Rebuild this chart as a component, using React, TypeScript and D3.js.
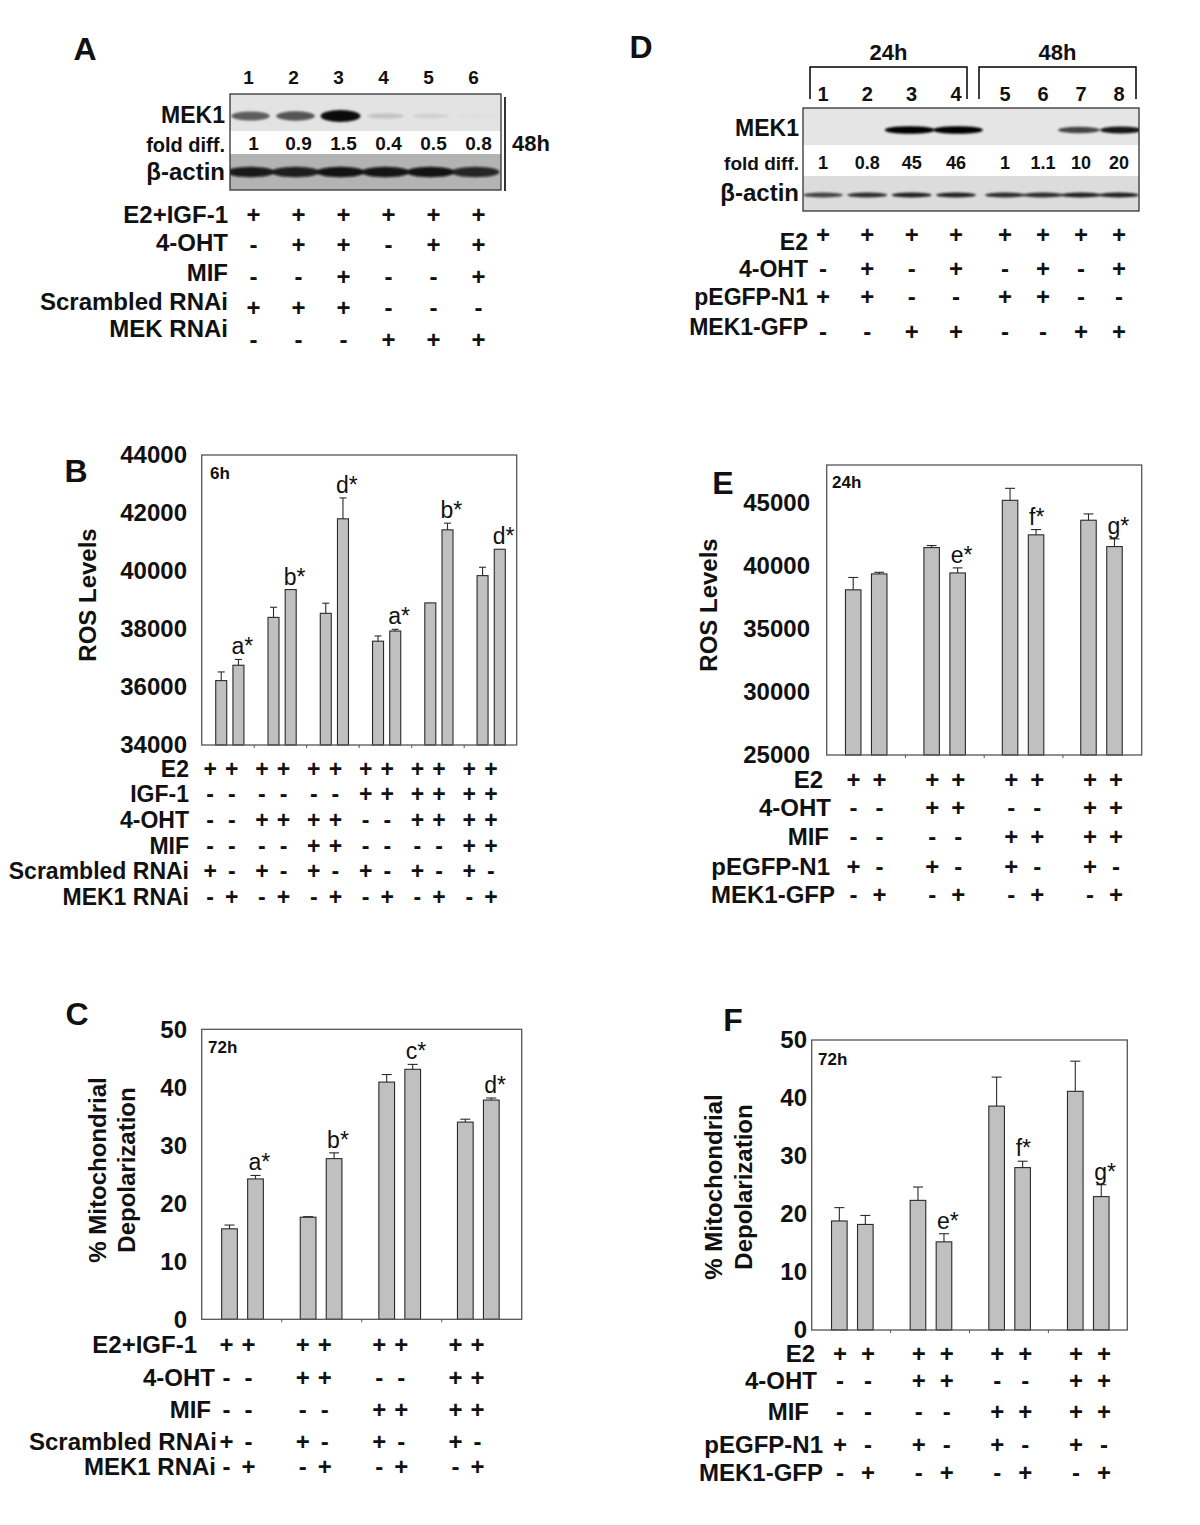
import React from 'react';
import * as d3 from 'd3';

const FONT = '"Liberation Sans", Arial, Helvetica, sans-serif';
const INK = '#111';
const BAR_FILL = '#c0c0c0';
const BAR_STROKE = '#2a2a2a';
const FRAME_STROKE = '#555';

// ---------------- Panel A (western blot) ----------------
const A_LANES = ['1', '2', '3', '4', '5', '6'];
const A_FOLD = ['1', '0.9', '1.5', '0.4', '0.5', '0.8'];
const A_MEK1_BAND = [0.62, 0.66, 1.0, 0.14, 0.08, 0.02];
const A_ACTIN_BAND = [0.92, 0.9, 0.97, 0.95, 0.97, 0.85];
const A_ROWS = ['E2+IGF-1', '4-OHT', 'MIF', 'Scrambled RNAi', 'MEK RNAi'];
const A_SIGNS = ['++++++', '-++-++', '--+--+', '+++---', '---+++'];

// ---------------- Panel D (western blot) ----------------
const D_TIMES = ['24h', '48h'];
const D_LANES = ['1', '2', '3', '4', '5', '6', '7', '8'];
const D_FOLD = ['1', '0.8', '45', '46', '1', '1.1', '10', '20'];
const D_MEK1_BAND = [0, 0, 1.0, 1.0, 0, 0, 0.7, 0.9];
const D_ACTIN_BAND = [0.7, 0.8, 0.85, 0.85, 0.8, 0.8, 0.85, 0.85];
const D_ROWS = ['E2', '4-OHT', 'pEGFP-N1', 'MEK1-GFP'];
const D_SIGNS = ['++++++++', '-+-+-+-+', '++--++--', '--++--++'];

// ---------------- Panel B ----------------
const B_VALUES = [36220, 36750, 38400, 39360, 38540, 41800, 37580, 37930, 38900, 41420, 39840, 40750];
const B_ERRORS = [300, 200, 350, 0, 350, 720, 180, 60, 0, 230, 290, 0];
const B_LABELS = ['', 'a*', '', 'b*', '', 'd*', '', 'a*', '', 'b*', '', 'd*'];
const B_TICKS = [34000, 36000, 38000, 40000, 42000, 44000];
const B_ROWS = ['E2', 'IGF-1', '4-OHT', 'MIF', 'Scrambled RNAi', 'MEK1 RNAi'];
const B_SIGNS = ['++++++++++++', '------++++++', '--++++--++++', '----++----++', '+-+-+-+-+-+-', '-+-+-+-+-+-+'];

// ---------------- Panel C ----------------
const C_VALUES = [15.6, 24.2, 17.6, 27.7, 40.9, 43.1, 34.0, 37.8];
const C_ERRORS = [0.65, 0.6, 0.1, 1.0, 1.3, 0.85, 0.5, 0.35];
const C_LABELS = ['', 'a*', '', 'b*', '', 'c*', '', 'd*'];
const C_TICKS = [0, 10, 20, 30, 40, 50];
const C_ROWS = ['E2+IGF-1', '4-OHT', 'MIF', 'Scrambled RNAi', 'MEK1 RNAi'];
const C_SIGNS = ['++++++++', '--++--++', '----++++', '+-+-+-+-', '-+-+-+-+'];

// ---------------- Panel E ----------------
const E_VALUES = [38100, 39360, 41450, 39440, 45200, 42460, 43620, 41530];
const E_ERRORS = [980, 130, 160, 400, 950, 420, 500, 610];
const E_LABELS = ['', '', '', 'e*', '', 'f*', '', 'g*'];
const E_TICKS = [25000, 30000, 35000, 40000, 45000];
const E_ROWS = ['E2', '4-OHT', 'MIF', 'pEGFP-N1', 'MEK1-GFP'];
const E_SIGNS = ['++++++++', '--++--++', '----++++', '+-+-+-+-', '-+-+-+-+'];

// ---------------- Panel F ----------------
const F_VALUES = [18.8, 18.2, 22.35, 15.2, 38.6, 28.0, 41.15, 23.0];
const F_ERRORS = [2.3, 1.55, 2.3, 1.4, 5.0, 1.1, 5.2, 2.05];
const F_LABELS = ['', '', '', 'e*', '', 'f*', '', 'g*'];
const F_TICKS = [0, 10, 20, 30, 40, 50];
const F_ROWS = ['E2', '4-OHT', 'MIF', 'pEGFP-N1', 'MEK1-GFP'];
const F_SIGNS = ['++++++++', '--++--++', '----++++', '+-+-+-+-', '-+-+-+-+'];

function T(props: any) {
  const { children, size = 24, weight = 700, anchor = 'start', ...rest } = props;
  return (
    <text
      fontFamily={FONT}
      fontSize={size}
      fontWeight={weight}
      textAnchor={anchor}
      dy="0.35em"
      fill={INK}
      {...rest}
    >
      {children}
    </text>
  );
}

function Sign({ ch, x, y, size }: any) {
  return (
    <T x={x} y={y} size={size} anchor="middle">
      {ch === '+' ? '+' : '-'}
    </T>
  );
}

function BarPanel(cfg: any) {
  const {
    frame, barRange, yDomain, ticks, values, errors, labels, barW, barOff,
    tag, tagPos, titleLines, titleXs, titleY, tickRight, letter, letterPos,
    rows, signs, labelRights, rowYs, signRange, signOff, labelSize,
  } = cfg;
  const [x0, y0, x1, y1] = frame;
  const n = values.length / 2;
  const groups = d3.range(n);
  const gx = d3.scaleBand<number>().domain(groups).range(barRange);
  const gFrame = d3.scaleBand<number>().domain(groups).range([x0, x1]);
  const sx = d3.scaleBand<number>().domain(groups).range(signRange);
  const y = d3.scaleLinear().domain(yDomain).range([y1, y0]);
  const barX = (i: number) => (gx(Math.floor(i / 2)) as number) + gx.bandwidth() / 2 + (i % 2 ? 1 : -1) * barOff;
  const signX = (i: number) => (sx(Math.floor(i / 2)) as number) + sx.bandwidth() / 2 + (i % 2 ? 1 : -1) * signOff;
  const cap = barW * 0.32;

  return (
    <g>
      <T x={letterPos[0]} y={letterPos[1]} size={32} anchor="middle">{letter}</T>
      {titleLines.map((t: string, k: number) => (
        <T key={k} x={0} y={0} size={24} anchor="middle"
          transform={`translate(${titleXs[k]},${titleY}) rotate(-90)`}>{t}</T>
      ))}
      {ticks.map((t: number) => (
        <T key={t} x={tickRight} y={y(t)} size={24} anchor="end">{String(t)}</T>
      ))}
      {values.map((v: number, i: number) => {
        const cx = barX(i);
        const top = y(v);
        const et = y(v + errors[i]);
        return (
          <g key={i}>
            <rect x={cx - barW / 2} y={top} width={barW} height={y1 - top}
              fill={BAR_FILL} stroke={BAR_STROKE} strokeWidth={1.1} />
            {errors[i] > 0 && (
              <g stroke={BAR_STROKE} strokeWidth={1.1}>
                <line x1={cx} x2={cx} y1={top} y2={et} />
                <line x1={cx - cap} x2={cx + cap} y1={et} y2={et} />
              </g>
            )}
            {labels[i] && (
              <T x={cx - 7} y={et - 5} dy="0" size={23} weight={400}>{labels[i]}</T>
            )}
          </g>
        );
      })}
      <rect x={x0} y={y0} width={x1 - x0} height={y1 - y0} fill="none" stroke={FRAME_STROKE} strokeWidth={1.3} />
      {groups.slice(1).map((g: number) => (
        <line key={g} x1={gFrame(g)} x2={gFrame(g)} y1={y1} y2={y1 + 3} stroke={FRAME_STROKE} strokeWidth={1} />
      ))}
      <T x={tagPos[0]} y={tagPos[1]} size={17}>{tag}</T>
      {rows.map((r: string, k: number) => (
        <g key={r}>
          <T x={labelRights[k]} y={rowYs[k]} size={labelSize} anchor="end">{r}</T>
          {signs[k].split('').map((ch: string, i: number) => (
            <Sign key={i} ch={ch} x={signX(i)} y={rowYs[k]} size={labelSize} />
          ))}
        </g>
      ))}
    </g>
  );
}

function PanelA() {
  const lane = d3.scaleBand<string>().domain(A_LANES).range([228, 498]);
  const lc = (l: string) => (lane(l) as number) + lane.bandwidth() / 2;
  const box = { x0: 230, x1: 501, y0: 94, ys1: 131, ys2: 154, y1: 190 };
  const labelYs = [215, 243, 273, 302, 329];
  const signYs = [215, 245, 277, 308, 340];
  return (
    <g>
      <defs>
        <clipPath id="clipA">
          <rect x={box.x0} y={box.y0} width={box.x1 - box.x0} height={box.y1 - box.y0} />
        </clipPath>
      </defs>
      <T x={85} y={49} size={32} anchor="middle">A</T>
      {A_LANES.map((l) => (
        <T key={l} x={lc(l) - 2} y={77} size={19} anchor="middle">{l}</T>
      ))}
      <g clipPath="url(#clipA)">
        <rect x={box.x0} y={box.y0} width={box.x1 - box.x0} height={box.ys1 - box.y0} fill="#e3e3e3" />
        <rect x={box.x0} y={box.ys1} width={box.x1 - box.x0} height={box.ys2 - box.ys1} fill="#ffffff" />
        <rect x={box.x0} y={box.ys2} width={box.x1 - box.x0} height={box.y1 - box.ys2} fill="#b3b3b3" />
        {A_LANES.map((l, i) => (
          <ellipse key={'m' + l} cx={lc(l)} cy={116} rx={18 + 2 * A_MEK1_BAND[i]} ry={2.2 + 3.8 * A_MEK1_BAND[i]}
            fill="#000" opacity={Math.min(1, A_MEK1_BAND[i] * 0.95)} filter="url(#blur)" />
        ))}
        {A_LANES.map((l, i) => (
          <ellipse key={'a' + l} cx={lc(l)} cy={172} rx={24} ry={5.2}
            fill="#0a0a0a" opacity={A_ACTIN_BAND[i]} filter="url(#blur)" />
        ))}
      </g>
      <rect x={box.x0} y={box.y0} width={box.x1 - box.x0} height={box.y1 - box.y0} fill="none" stroke="#333" strokeWidth={1.3} />
      {A_FOLD.map((f, i) => (
        <T key={'f' + i} x={lc(A_LANES[i]) + 3} y={143} size={19} anchor="middle">{f}</T>
      ))}
      <T x={225} y={115} size={23} anchor="end">MEK1</T>
      <T x={225} y={145} size={20} anchor="end">fold diff.</T>
      <T x={225} y={172} size={24} anchor="end">β-actin</T>
      <line x1={505} x2={505} y1={97} y2={191} stroke="#000" strokeWidth={1.6} />
      <T x={512} y={143} size={22}>48h</T>
      {A_ROWS.map((r, k) => (
        <g key={r}>
          <T x={228} y={labelYs[k]} size={24} anchor="end">{r}</T>
          {A_SIGNS[k].split('').map((ch, i) => (
            <Sign key={i} ch={ch} x={lc(A_LANES[i]) + 3} y={signYs[k]} size={24} />
          ))}
        </g>
      ))}
    </g>
  );
}

function PanelD() {
  const timeRange: [number, number][] = [[823, 956], [1005, 1119]];
  const brackets: [number, number][] = [[810, 967], [979, 1136]];
  const laneScales = D_TIMES.map((t, k) =>
    d3.scalePoint<string>().domain(D_LANES.slice(k * 4, k * 4 + 4)).range(timeRange[k]));
  const lx = (i: number) => laneScales[Math.floor(i / 4)](D_LANES[i]) as number;
  const box = { x0: 803, x1: 1139, y0: 108, ys1: 145, ys2: 176, y1: 211 };
  const labelYs = [242, 269, 297, 327];
  const signYs = [235, 269, 297, 332];
  return (
    <g>
      <defs>
        <clipPath id="clipD">
          <rect x={box.x0} y={box.y0} width={box.x1 - box.x0} height={box.y1 - box.y0} />
        </clipPath>
      </defs>
      <T x={641} y={47} size={32} anchor="middle">D</T>
      {D_TIMES.map((t, k) => (
        <g key={t}>
          <T x={(brackets[k][0] + brackets[k][1]) / 2} y={52} size={22} anchor="middle">{t}</T>
          <path d={`M${brackets[k][0]},99V67H${brackets[k][1]}V99`} fill="none" stroke="#000" strokeWidth={1.5} />
        </g>
      ))}
      {D_LANES.map((l, i) => (
        <T key={l} x={lx(i)} y={94} size={20} anchor="middle">{l}</T>
      ))}
      <g clipPath="url(#clipD)">
        <rect x={box.x0} y={box.y0} width={box.x1 - box.x0} height={box.ys1 - box.y0} fill="#e5e5e5" />
        <rect x={box.x0} y={box.ys1} width={box.x1 - box.x0} height={box.ys2 - box.ys1} fill="#ffffff" />
        <rect x={box.x0} y={box.ys2} width={box.x1 - box.x0} height={box.y1 - box.ys2} fill="#dcdcdc" />
        {D_LANES.map((l, i) => D_MEK1_BAND[i] > 0 && (
          <ellipse key={'m' + l} cx={lx(i) + (i % 4 === 2 ? -2 : 2)} cy={130} rx={i < 4 ? 25 : 21} ry={1.8 + 2 * D_MEK1_BAND[i]}
            fill="#000" opacity={D_MEK1_BAND[i]} filter="url(#blur)" />
        ))}
        {D_LANES.map((l, i) => (
          <ellipse key={'a' + l} cx={lx(i)} cy={195} rx={20} ry={2.6}
            fill="#000" opacity={D_ACTIN_BAND[i]} filter="url(#blur)" />
        ))}
      </g>
      <rect x={box.x0} y={box.y0} width={box.x1 - box.x0} height={box.y1 - box.y0} fill="none" stroke="#333" strokeWidth={1.3} />
      {D_FOLD.map((f, i) => (
        <T key={'f' + i} x={lx(i)} y={163} size={18} anchor="middle">{f}</T>
      ))}
      <T x={799} y={128} size={23} anchor="end">MEK1</T>
      <T x={799} y={163} size={19} anchor="end">fold diff.</T>
      <T x={799} y={193} size={24} anchor="end">β-actin</T>
      {D_ROWS.map((r, k) => (
        <g key={r}>
          <T x={808} y={labelYs[k]} size={23} anchor="end">{r}</T>
          {D_SIGNS[k].split('').map((ch, i) => (
            <Sign key={i} ch={ch} x={lx(i)} y={signYs[k]} size={24} />
          ))}
        </g>
      ))}
    </g>
  );
}

export default function App() {
  return (
    <svg width={1200} height={1525} viewBox="0 0 1200 1525"
      style={{ position: 'absolute', left: 0, top: 0, background: '#fff' }}>
      <defs>
        <filter id="blur" x="-30%" y="-300%" width="160%" height="700%">
          <feGaussianBlur stdDeviation="1.3" />
        </filter>
      </defs>
      <rect x={0} y={0} width={1200} height={1525} fill="#fff" />
      <PanelA />
      <PanelD />
      <BarPanel
        frame={[201.7, 455, 516.7, 745]} barRange={[203.7, 517.3]} yDomain={[34000, 44000]}
        ticks={B_TICKS} values={B_VALUES} errors={B_ERRORS} labels={B_LABELS}
        barW={11} barOff={8.6} tag="6h" tagPos={[210, 473]}
        titleLines={['ROS Levels']} titleXs={[88]} titleY={595} tickRight={187}
        letter="B" letterPos={[76, 471]}
        rows={B_ROWS} signs={B_SIGNS} labelRights={[189, 189, 189, 189, 189, 189]}
        rowYs={[769, 794, 820, 846, 871, 897]}
        signRange={[195, 506]} signOff={10.8} labelSize={23}
      />
      <BarPanel
        frame={[201.7, 1029.3, 521.7, 1319.3]} barRange={[203.2, 517.6]} yDomain={[0, 50]}
        ticks={C_TICKS} values={C_VALUES} errors={C_ERRORS} labels={C_LABELS}
        barW={15.7} barOff={13} tag="72h" tagPos={[208, 1047]}
        titleLines={['% Mitochondrial', 'Depolarization']} titleXs={[98, 127]} titleY={1170} tickRight={187}
        letter="C" letterPos={[77, 1014]}
        rows={C_ROWS} signs={C_SIGNS} labelRights={[197, 215, 211, 217, 216]}
        rowYs={[1345, 1378, 1410, 1442, 1467]}
        signRange={[199.3, 504.7]} signOff={11} labelSize={24}
      />
      <BarPanel
        frame={[826.7, 465, 1141.7, 755]} barRange={[827, 1140.7]} yDomain={[25000, 48000]}
        ticks={E_TICKS} values={E_VALUES} errors={E_ERRORS} labels={E_LABELS}
        barW={15.5} barOff={13} tag="24h" tagPos={[832, 482]}
        titleLines={['ROS Levels']} titleXs={[709]} titleY={605} tickRight={810}
        letter="E" letterPos={[723, 483]}
        rows={E_ROWS} signs={E_SIGNS} labelRights={[823, 831, 829, 830, 835]}
        rowYs={[780, 808, 837, 867, 895]}
        signRange={[827.1, 1142.4]} signOff={13} labelSize={24}
      />
      <BarPanel
        frame={[811.7, 1040, 1127.3, 1330]} barRange={[813, 1127.6]} yDomain={[0, 50]}
        ticks={F_TICKS} values={F_VALUES} errors={F_ERRORS} labels={F_LABELS}
        barW={15.6} barOff={13} tag="72h" tagPos={[818, 1059]}
        titleLines={['% Mitochondrial', 'Depolarization']} titleXs={[714, 744]} titleY={1187} tickRight={807}
        letter="F" letterPos={[733, 1020]}
        rows={F_ROWS} signs={F_SIGNS} labelRights={[815, 817, 809, 823, 823]}
        rowYs={[1354, 1381, 1412, 1445, 1473]}
        signRange={[814.7, 1129.3]} signOff={14} labelSize={24}
      />
    </svg>
  );
}
